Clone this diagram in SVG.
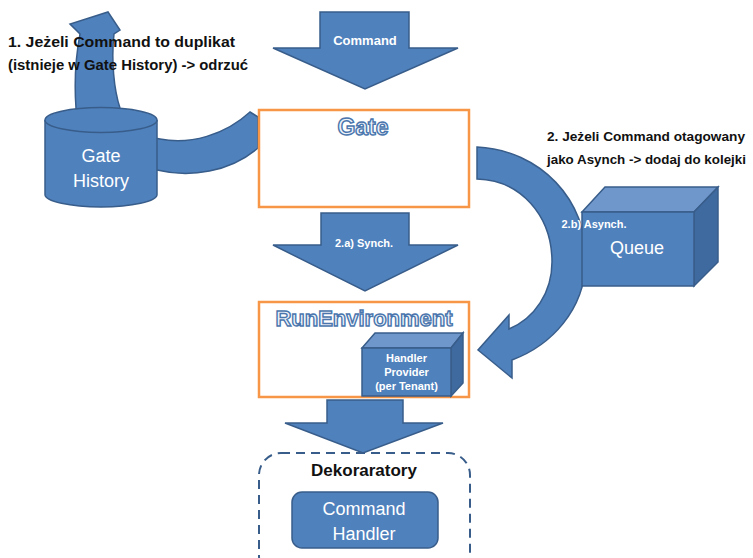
<svg xmlns="http://www.w3.org/2000/svg" width="753" height="558" viewBox="0 0 753 558">
<style>
.blue{fill:#4F81BD;stroke:#385D8A;stroke-width:1.5;stroke-linejoin:miter}
.top{fill:#6F97CB;stroke:#385D8A;stroke-width:1.5}
.side{fill:#3F6A9F;stroke:#385D8A;stroke-width:1.5}
.box{fill:#FFFFFF;stroke:#F79646;stroke-width:2.5}
.t{font-family:"Liberation Sans",Arial,sans-serif}
.wb{fill:#FFFFFF;font-weight:bold}
.wn{fill:#FFFFFF}
.kb{fill:#111111;font-weight:bold}
.ol{fill:#EEF3FA;stroke:#4A76AD;stroke-width:1.4;font-weight:bold}
</style>
<g id="connectors">
  <path id="arrow-reject" class="blue" d="M250,112 L258,117 L258,148 C230,172 190,178 157,170 C110,160 78,140 76,108 C74,80 76,55 80,34 L70,24 L108,12 L120,30 L114,34 C111,60 114,90 120,108 C130,130 145,137 160,139 C190,145 225,135 250,112 Z"/>
  <path id="arrow-async" class="blue" d="M477,147 C540,150 588,200 586,262 C584,310 552,345 512,360 L512,378 L478,350 L509,315 L509,329 C535,318 552,292 552,262 C552,215 520,180 477,179 Z"/>
  <path id="arrow-command" class="blue" d="M320,12 L409,12 L409,48 L458,48 L365,89 L273,48 L320,48 Z"/>
  <path id="arrow-synch" class="blue" d="M321,213 L409,213 L409,245 L458,245 L365,291 L273,245 L321,245 Z"/>
  <path id="arrow-handler" class="blue" d="M327,400 L403,400 L403,423 L443,423 L363,453 L285,423 L327,423 Z"/>
  <text class="t wb" x="365" y="45" font-size="13" text-anchor="middle">Command</text>
  <text class="t wb" x="364" y="247" font-size="11" text-anchor="middle">2.a) Synch.</text>
</g>
<g id="gate-history">
  <path class="blue" d="M45,120 L45,194.5 A56,12.5 0 0 0 157,194.5 L157,120"/>
  <ellipse class="blue" cx="101" cy="120" rx="56" ry="12.5"/>
  <text class="t wn" x="101" y="162" font-size="18" text-anchor="middle">Gate</text>
  <text class="t wn" x="101" y="187" font-size="18" text-anchor="middle">History</text>
</g>
<g id="gate">
  <rect class="box" x="259" y="110" width="210" height="97"/>
  <text class="t ol" x="363" y="135" font-size="23" text-anchor="middle">Gate</text>
</g>
<g id="queue">
  <polygon class="top" points="582,212 605,187 718,187 694,212"/>
  <polygon class="side" points="694,212 718,187 718,262 694,286"/>
  <rect class="blue" x="582" y="212" width="112" height="74"/>
  <text class="t wn" x="637" y="254" font-size="18" text-anchor="middle">Queue</text>
</g>
<text class="t wb" x="594" y="228" font-size="11" text-anchor="middle">2.b) Asynch.</text>
<g id="run-environment">
  <rect class="box" x="259" y="302" width="210" height="95"/>
  <text class="t ol" x="364" y="326" font-size="22" text-anchor="middle">RunEnvironment</text>
</g>
<g id="handler-provider">
  <polygon class="top" points="362,348 375,333 463,333 451,348"/>
  <polygon class="side" points="451,348 463,333 463,383 451,396"/>
  <rect class="blue" x="362" y="348" width="89" height="48"/>
  <text class="t wb" x="406.5" y="362" font-size="11" text-anchor="middle">Handler</text>
  <text class="t wb" x="406.5" y="376" font-size="11" text-anchor="middle">Provider</text>
  <text class="t wb" x="406.5" y="390" font-size="11" text-anchor="middle">(per Tenant)</text>
</g>
<g id="dekoraratory">
  <rect x="259" y="453" width="211" height="125" rx="22" fill="none" stroke="#385D8A" stroke-width="2" stroke-dasharray="9,6"/>
  <text class="t kb" x="364" y="476" font-size="17" text-anchor="middle">Dekoraratory</text>
</g>
<g id="command-handler">
  <rect class="blue" x="292" y="492" width="146" height="56" rx="10"/>
  <text class="t wn" x="364" y="515" font-size="18" text-anchor="middle">Command</text>
  <text class="t wn" x="364" y="540" font-size="18" text-anchor="middle">Handler</text>
</g>
<g id="labels">
  <text class="t kb" x="8" y="47" font-size="14" textLength="227" lengthAdjust="spacingAndGlyphs">1. Jeżeli Command to duplikat</text>
  <text class="t kb" x="8" y="70" font-size="14" textLength="240" lengthAdjust="spacingAndGlyphs">(istnieje w Gate History) -&gt; odrzuć</text>
  <text class="t kb" x="547" y="141" font-size="13.5" textLength="198" lengthAdjust="spacingAndGlyphs">2. Jeżeli Command otagowany</text>
  <text class="t kb" x="547" y="164" font-size="13.5" textLength="199" lengthAdjust="spacingAndGlyphs">jako Asynch -&gt; dodaj do kolejki</text>
</g>
</svg>
